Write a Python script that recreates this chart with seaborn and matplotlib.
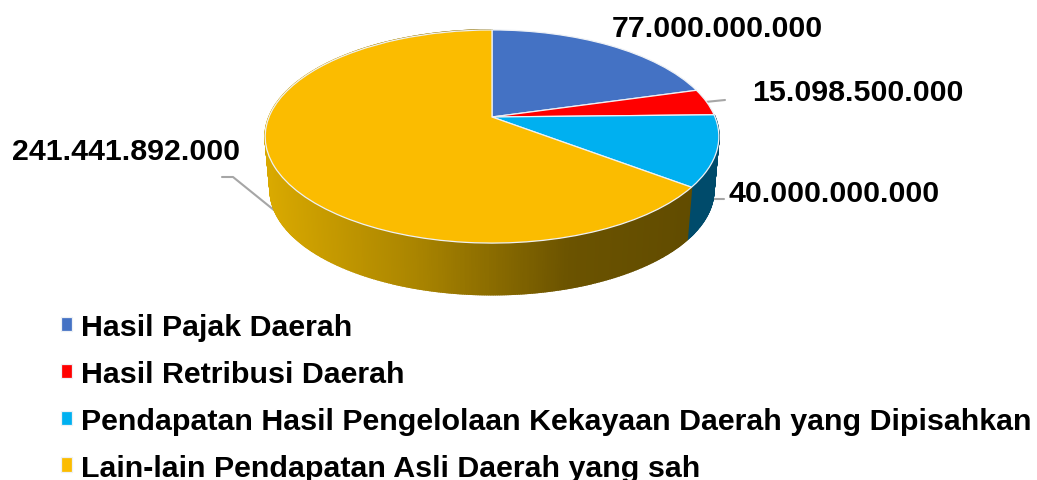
import matplotlib
matplotlib.use("Agg")
import matplotlib.pyplot as plt
import matplotlib.transforms as mtransforms
import numpy as np
import seaborn as sns

categories = [
    "Hasil Pajak Daerah",
    "Hasil Retribusi Daerah",
    "Pendapatan Hasil Pengelolaan Kekayaan Daerah yang Dipisahkan",
    "Lain-lain Pendapatan Asli Daerah yang sah",
]
values = [77000000000, 15098500000, 40000000000, 241441892000]
colors = ["#4472C4", "#FF0000", "#00B0F0", "#FBBC00"]
side_colors = ["#D9A900", "#A98400", "#6B5300", "#5F4A00"]
side_blue = "#004B6B"


def project(x, y, top=True):
    # tilted disc, near edge bigger than far edge
    k = 0.183
    if top:
        x0, y0, a, b = 492, 118, 223, 103
    else:
        x0, y0, a, b = 492, 172, 218, 101
    d = 1 + k * y
    return x0 + a * x / d, y0 - b * y / d


class Tilt(mtransforms.Transform):
    input_dims = 2
    output_dims = 2
    is_separable = False

    def transform_non_affine(self, xy):
        xy = np.asarray(xy)
        px, py = project(xy[:, 0], xy[:, 1])
        return np.column_stack([px, py])


sns.set_theme(style="white")
plt.rcParams["font.family"] = ["Liberation Sans", "DejaVu Sans"]
plt.rcParams["font.weight"] = "bold"

fig = plt.figure(figsize=(10.37, 4.81), dpi=100)
ax = fig.add_axes([0, 0, 1, 1])

wedges, _ = ax.pie(values, colors=colors, startangle=90, counterclock=False, radius=1,
                   wedgeprops={"edgecolor": "#EEF1F5", "linewidth": 0.9, "zorder": 3})
tilt = Tilt() + ax.transData
for w in wedges:
    w.set_transform(tilt)
ax.set_aspect("auto")
ax.set_xlim(0, 1037)
ax.set_ylim(481, 0)
ax.axis("off")

# outer wall of the pie, angles come from the values
ends = np.cumsum(values) / np.sum(values) * 2 * np.pi
grad = sns.blend_palette(side_colors, n_colors=256)
for start, stop, is_blue in [(ends[1], ends[2], True), (ends[2], ends[3], False)]:
    steps = np.linspace(start, stop, int((stop - start) * 120) + 2)
    for t0, t1 in zip(steps[:-1], steps[1:]):
        ts = np.array([t0, t1])
        tx, ty = project(np.sin(ts), np.cos(ts), top=True)
        bx, by = project(np.sin(ts), np.cos(ts), top=False)
        if is_blue:
            col = side_blue
        else:
            col = grad[int(np.clip((tx.mean() - 265) / 454, 0, 1) * 255)]
        ax.fill(np.r_[tx, bx[::-1]], np.r_[ty, by[::-1]], color=col, lw=1.2, zorder=1)

# leader lines, drawn behind the pie
ax.plot([705, 725], [103, 101], color="#A6A6A6", lw=1.5, zorder=0.5)
ax.plot([700, 724], [200, 200], color="#A6A6A6", lw=1.5, zorder=0.5)
ax.plot([222, 233, 285], [178, 178, 220], color="#A6A6A6", lw=1.5, zorder=0.5)

label_pos = [(717, 29), (858, 93), (834, 194), (126, 152)]
for v, (lx, ly) in zip(values, label_pos):
    ax.text(lx, ly, f"{v:,}".replace(",", "."), ha="center", va="center",
            fontsize=21.9, fontweight="bold", color="black", zorder=5)

ax.legend(wedges, categories, loc="upper left", bbox_to_anchor=(61 / 1037, 1 - 314 / 481),
          frameon=False, fontsize=21.9, borderpad=0, borderaxespad=0,
          handlelength=0.36, handleheight=0.36, handletextpad=0.3, labelspacing=0.62,
          labelcolor="black")

fig.savefig("out.png", dpi=100)
